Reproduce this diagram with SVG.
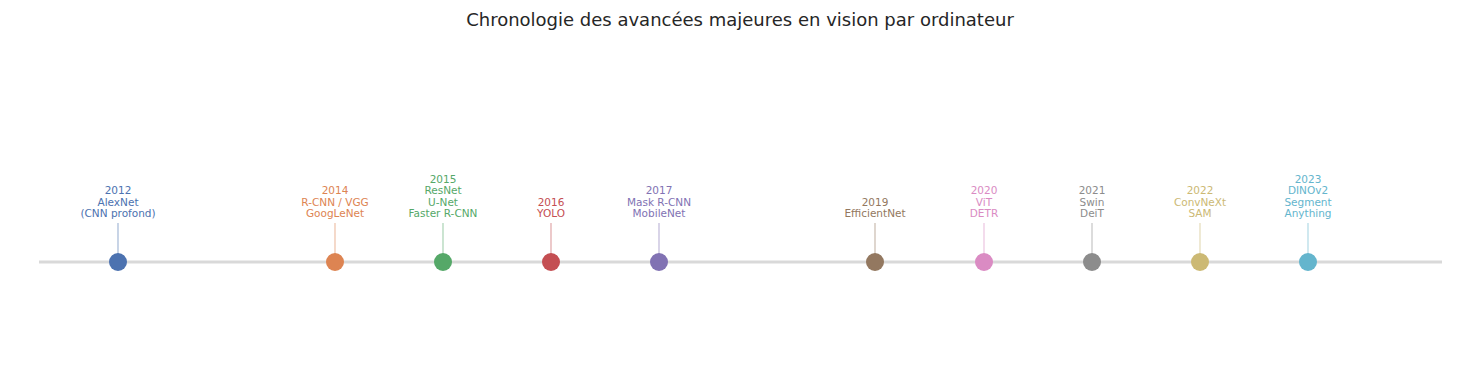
<svg xmlns="http://www.w3.org/2000/svg" width="1480" height="380" viewBox="0 0 1480 380">
<style>
text{font-family:"DejaVu Sans",sans-serif;}
.t{font-size:18px;fill:#262626;text-anchor:middle;}
.l{font-size:10.5px;text-anchor:middle;}
.s{stroke-width:1.2;stroke-opacity:0.5;}
</style>
<rect width="1480" height="380" fill="#ffffff"/>
<text class="t" x="740" y="26">Chronologie des avancées majeures en vision par ordinateur</text>
<g id="connectors">
<line x1="39" y1="262" x2="1442" y2="262" stroke="#d9d9d9" stroke-width="3"/>
<line class="s" x1="118" y1="223" x2="118" y2="262" stroke="#4C72B0"/>
<line class="s" x1="335" y1="223" x2="335" y2="262" stroke="#DD8452"/>
<line class="s" x1="443" y1="223" x2="443" y2="262" stroke="#55A868"/>
<line class="s" x1="551" y1="223" x2="551" y2="262" stroke="#C44E52"/>
<line class="s" x1="659" y1="223" x2="659" y2="262" stroke="#8172B3"/>
<line class="s" x1="875" y1="223" x2="875" y2="262" stroke="#937860"/>
<line class="s" x1="984" y1="223" x2="984" y2="262" stroke="#DA8BC3"/>
<line class="s" x1="1092" y1="223" x2="1092" y2="262" stroke="#8C8C8C"/>
<line class="s" x1="1200" y1="223" x2="1200" y2="262" stroke="#CCB974"/>
<line class="s" x1="1308" y1="223" x2="1308" y2="262" stroke="#64B5CD"/>
</g>
<g id="n2012" fill="#4C72B0"><circle cx="118" cy="262" r="9"/><text class="l" x="118" y="194">2012</text><text class="l" x="118" y="206">AlexNet</text><text class="l" x="118" y="217">(CNN profond)</text></g>
<g id="n2014" fill="#DD8452"><circle cx="335" cy="262" r="9"/><text class="l" x="335" y="194">2014</text><text class="l" x="335" y="206">R-CNN / VGG</text><text class="l" x="335" y="217">GoogLeNet</text></g>
<g id="n2015" fill="#55A868"><circle cx="443" cy="262" r="9"/><text class="l" x="443" y="183">2015</text><text class="l" x="443" y="194">ResNet</text><text class="l" x="443" y="206">U-Net</text><text class="l" x="443" y="217">Faster R-CNN</text></g>
<g id="n2016" fill="#C44E52"><circle cx="551" cy="262" r="9"/><text class="l" x="551" y="206">2016</text><text class="l" x="551" y="217">YOLO</text></g>
<g id="n2017" fill="#8172B3"><circle cx="659" cy="262" r="9"/><text class="l" x="659" y="194">2017</text><text class="l" x="659" y="206">Mask R-CNN</text><text class="l" x="659" y="217">MobileNet</text></g>
<g id="n2019" fill="#937860"><circle cx="875" cy="262" r="9"/><text class="l" x="875" y="206">2019</text><text class="l" x="875" y="217">EfficientNet</text></g>
<g id="n2020" fill="#DA8BC3"><circle cx="984" cy="262" r="9"/><text class="l" x="984" y="194">2020</text><text class="l" x="984" y="206">ViT</text><text class="l" x="984" y="217">DETR</text></g>
<g id="n2021" fill="#8C8C8C"><circle cx="1092" cy="262" r="9"/><text class="l" x="1092" y="194">2021</text><text class="l" x="1092" y="206">Swin</text><text class="l" x="1092" y="217">DeiT</text></g>
<g id="n2022" fill="#CCB974"><circle cx="1200" cy="262" r="9"/><text class="l" x="1200" y="194">2022</text><text class="l" x="1200" y="206">ConvNeXt</text><text class="l" x="1200" y="217">SAM</text></g>
<g id="n2023" fill="#64B5CD"><circle cx="1308" cy="262" r="9"/><text class="l" x="1308" y="183">2023</text><text class="l" x="1308" y="194">DINOv2</text><text class="l" x="1308" y="206">Segment</text><text class="l" x="1308" y="217">Anything</text></g>
</svg>
